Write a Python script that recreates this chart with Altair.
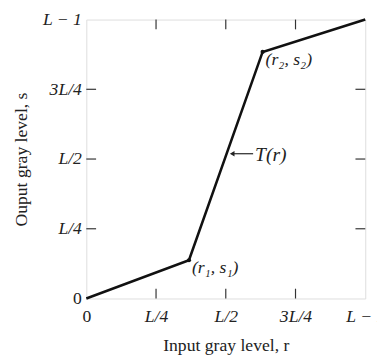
import altair as alt
import pandas as pd

# piecewise-linear transformation (in units of L)
r_vals = [0.0, 0.368, 0.632, 1.0]
s_vals = [0.0, 0.137, 0.884, 1.0]

tick_pos = [0.0, 0.25, 0.5, 0.75, 1.0]
tick_labels = ["0", "L/4", "L/2", "3L/4", "L \u2212 1"]
inner_ticks = [0.25, 0.5, 0.75]

pt_labels = ["(r\u2081, s\u2081)", "(r\u2082, s\u2082)"]
pt_r = [0.368, 0.632]
pt_s = [0.137, 0.884]

arrow_r = [0.523, 0.598]
arrow_s = 0.519

FONT = "Liberation Serif"
W, H = 285, 285

line_df = pd.DataFrame({"r": r_vals, "s": s_vals})
xs = alt.Scale(domain=[0, 1], nice=False, zero=False)
ys = alt.Scale(domain=[0, 1], nice=False, zero=False)

label_expr = ("datum.value == 0 ? '" + tick_labels[0] + "' : datum.value == 0.25 ? '" + tick_labels[1] +
              "' : datum.value == 0.5 ? '" + tick_labels[2] + "' : datum.value == 0.75 ? '" +
              tick_labels[3] + "' : '" + tick_labels[4] + "'")
style_expr = "datum.value == 0 ? 'normal' : 'italic'"

base_line = alt.Chart(line_df).mark_line(color="#111", strokeWidth=2.6).encode(
    x=alt.X("r:Q", scale=xs,
            axis=alt.Axis(values=tick_pos, labelExpr=label_expr, title="Input gray level, r",
                          tickSize=0, labelPadding=9, labelFont=FONT, labelFontSize=18,
                          labelFontStyle={"expr": style_expr},
                          labelColor="#222", titleFont=FONT, titleFontSize=18,
                          titleFontWeight="normal", titleColor="#222", titlePadding=12,
                          domain=False, grid=False, labelFlush=False)),
    y=alt.Y("s:Q", scale=ys,
            axis=alt.Axis(values=tick_pos, labelExpr=label_expr, title="Ouput gray level, s",
                          tickSize=0, labelPadding=5, labelFont=FONT, labelFontSize=18,
                          labelFontStyle={"expr": style_expr},
                          labelColor="#222", titleFont=FONT, titleFontSize=18,
                          titleFontWeight="normal", titleColor="#222", titlePadding=12,
                          domain=False, grid=False, labelFlush=False)),
)

ticks_df = pd.DataFrame({"v": inner_ticks})
tick_col = "#333"
bottom_ticks = alt.Chart(ticks_df).mark_rule(color=tick_col, strokeWidth=1.2).encode(
    x=alt.X("v:Q", scale=xs), y=alt.value(H), y2=alt.value(H - 10))
top_ticks = alt.Chart(ticks_df).mark_rule(color=tick_col, strokeWidth=1.2).encode(
    x=alt.X("v:Q", scale=xs), y=alt.value(0), y2=alt.value(10))
left_ticks = alt.Chart(ticks_df).mark_rule(color=tick_col, strokeWidth=1.2).encode(
    y=alt.Y("v:Q", scale=ys), x=alt.value(0), x2=alt.value(10))
right_ticks = alt.Chart(ticks_df).mark_rule(color=tick_col, strokeWidth=1.2).encode(
    y=alt.Y("v:Q", scale=ys), x=alt.value(W), x2=alt.value(W - 10))

pts_df = pd.DataFrame({"r": pt_r, "s": pt_s, "lab": pt_labels})
dots = alt.Chart(pts_df).mark_point(filled=True, color="#111", size=18, opacity=1).encode(
    x=alt.X("r:Q", scale=xs), y=alt.Y("s:Q", scale=ys))
pt_text = alt.Chart(pts_df).mark_text(font=FONT, fontSize=18, fontStyle="italic", align="left",
                                      dx=3, dy=8, color="#222").encode(
    x=alt.X("r:Q", scale=xs), y=alt.Y("s:Q", scale=ys), text="lab:N")

arrow_df = pd.DataFrame({"r": [arrow_r[0]], "r2": [arrow_r[1]], "s": [arrow_s], "lab": ["T(r)"]})
arrow_line = alt.Chart(arrow_df).mark_rule(color="#222", strokeWidth=1.2).encode(
    x=alt.X("r:Q", scale=xs), x2="r2:Q", y=alt.Y("s:Q", scale=ys))
arrow_head = alt.Chart(arrow_df).mark_point(shape="triangle-left", filled=True, color="#222",
                                            size=30, opacity=1).encode(
    x=alt.X("r:Q", scale=xs), y=alt.Y("s:Q", scale=ys))
arrow_text = alt.Chart(arrow_df).mark_text(font=FONT, fontSize=20, fontStyle="italic",
                                           align="left", dx=2, dy=1, color="#222").encode(
    x=alt.X("r2:Q", scale=xs), y=alt.Y("s:Q", scale=ys), text="lab:N")

chart = alt.layer(
    bottom_ticks, top_ticks, left_ticks, right_ticks,
    base_line, dots, pt_text, arrow_line, arrow_head, arrow_text
).properties(
    width=W, height=H,
    autosize=alt.AutoSizeParams(type="none"),
    padding={"left": 80, "top": 8, "right": 12, "bottom": 58},
).configure_view(stroke="#333", strokeWidth=1.2).configure(background="white")

chart.save("out.html", embed_options={"renderer": "svg", "actions": False})
